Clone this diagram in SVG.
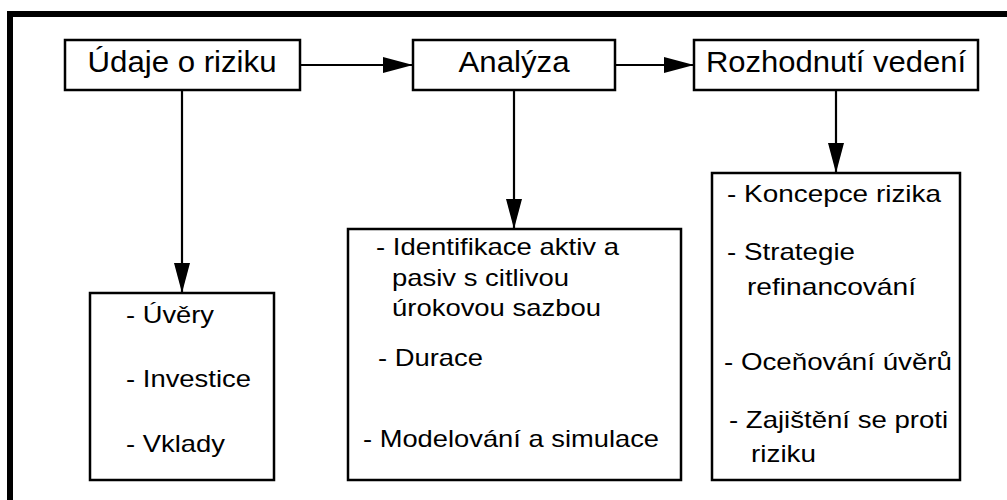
<svg xmlns="http://www.w3.org/2000/svg" width="1007" height="500" viewBox="0 0 1007 500">
<style>
.box{fill:#fff;stroke:#000;stroke-width:2.5}
.frame{fill:none;stroke:#000;stroke-width:6}
.con{fill:none;stroke:#000;stroke-width:2.2;marker-end:url(#ah)}
text{font-family:"Liberation Sans",Arial,Helvetica,sans-serif;fill:#000}
.h{font-size:29px;text-anchor:middle}
.b{font-size:24px}
</style>
<defs>
<marker id="ah" markerUnits="userSpaceOnUse" markerWidth="30" markerHeight="16" refX="29" refY="8" orient="auto">
<path d="M0,0 L30,8 L0,16 z" fill="#000"/>
</marker>
</defs>
<rect class="frame" x="10" y="14" width="1020" height="520"/>
<g id="connectors">
<line class="con" x1="300" y1="65" x2="412" y2="65"/>
<line class="con" x1="615" y1="65" x2="693" y2="65"/>
<line class="con" x1="182" y1="90" x2="182" y2="292"/>
<line class="con" x1="514" y1="90" x2="514" y2="228"/>
<line class="con" x1="836" y1="90" x2="836" y2="172"/>
</g>
<g id="udaje">
<rect class="box" x="65" y="40" width="235" height="50"/>
<text class="h" x="182" y="72" textLength="189" lengthAdjust="spacingAndGlyphs">Údaje o riziku</text>
</g>
<g id="analyza">
<rect class="box" x="413" y="40" width="202" height="50"/>
<text class="h" x="514" y="72" textLength="111" lengthAdjust="spacingAndGlyphs">Analýza</text>
</g>
<g id="rozhodnuti">
<rect class="box" x="694" y="40" width="284" height="50"/>
<text class="h" x="836" y="72" textLength="260" lengthAdjust="spacingAndGlyphs">Rozhodnutí vedení</text>
</g>
<g id="udaje-list">
<rect class="box" x="90" y="293" width="184" height="187"/>
<text class="b" x="126" y="323" textLength="88" lengthAdjust="spacingAndGlyphs">- Úvěry</text>
<text class="b" x="126" y="387" textLength="125" lengthAdjust="spacingAndGlyphs">- Investice</text>
<text class="b" x="126" y="452" textLength="99" lengthAdjust="spacingAndGlyphs">- Vklady</text>
</g>
<g id="analyza-list">
<rect class="box" x="348" y="229" width="333" height="251"/>
<text class="b" x="376" y="255" textLength="243" lengthAdjust="spacingAndGlyphs">- Identifikace aktiv a</text>
<text class="b" x="392" y="286" textLength="177" lengthAdjust="spacingAndGlyphs">pasiv s citlivou</text>
<text class="b" x="392" y="316" textLength="209" lengthAdjust="spacingAndGlyphs">úrokovou sazbou</text>
<text class="b" x="378" y="366" textLength="105" lengthAdjust="spacingAndGlyphs">- Durace</text>
<text class="b" x="363" y="447" textLength="296" lengthAdjust="spacingAndGlyphs">- Modelování a simulace</text>
</g>
<g id="rozhodnuti-list">
<rect class="box" x="712" y="173" width="248" height="307"/>
<text class="b" x="727" y="202" textLength="214" lengthAdjust="spacingAndGlyphs">- Koncepce rizika</text>
<text class="b" x="727" y="260" textLength="128" lengthAdjust="spacingAndGlyphs">- Strategie</text>
<text class="b" x="747" y="295" textLength="169" lengthAdjust="spacingAndGlyphs">refinancování</text>
<text class="b" x="724" y="370" textLength="228" lengthAdjust="spacingAndGlyphs">- Oceňování úvěrů</text>
<text class="b" x="729" y="428" textLength="219" lengthAdjust="spacingAndGlyphs">- Zajištění se proti</text>
<text class="b" x="751" y="462" textLength="65" lengthAdjust="spacingAndGlyphs">riziku</text>
</g>
</svg>
